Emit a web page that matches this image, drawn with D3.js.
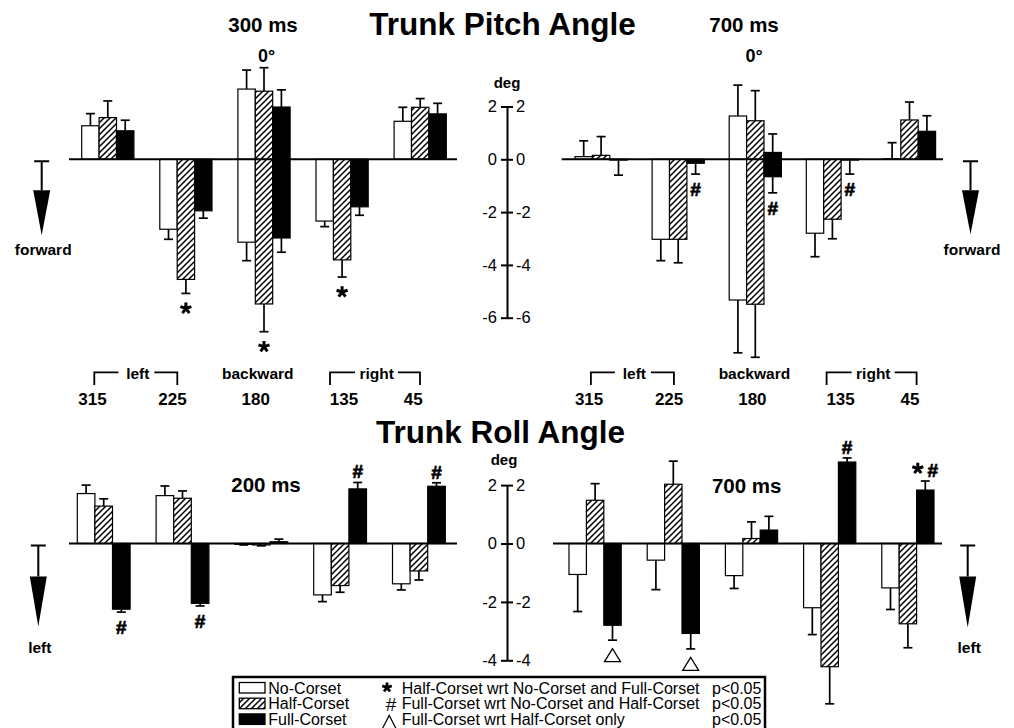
<!DOCTYPE html>
<html>
<head>
<meta charset="utf-8">
<script src="https://cdn.jsdelivr.net/npm/d3@7"></script>
<style>
body { margin: 0; background: #fff; }
svg text { font-family: "Liberation Sans", Arial, Helvetica, sans-serif; fill: #000; }
</style>
</head>
<body>
<svg id="chart" width="1014" height="728"></svg>
<script>
// directions (deg) and conditions
var groups = ["315", "225", "180", "135", "45"];
var series = ["No-Corset", "Half-Corset", "Full-Corset"];

// one row per direction, columns: No-, Half-, Full-Corset (deg)
var pitch300Mean = [[1.27, 1.58, 1.08], [-2.65, -4.55, -1.95], [-3.14, -5.48, -2.98], [-2.34, -3.81, -1.80], [1.44, 1.97, 1.72]];
var pitch300Sd = [[0.46, 0.63, 0.40], [0.38, 0.53, 0.28], [0.70, 1.05, 0.54], [0.21, 0.65, 0.32], [0.53, 0.33, 0.40]];
// 0 deg (forward tilt) shares the 180 slot, drawn upward
var pitch300ZeroMean = [2.66, 2.58, 1.98];
var pitch300ZeroSd = [0.72, 0.89, 0.65];

var pitch700Mean = [[0.10, 0.15, -0.03], [-3.03, -3.03, -0.15], [-5.33, -5.49, -0.66], [-2.80, -2.27, -0.03], [0.02, 1.49, 1.06]];
var pitch700Sd = [[0.60, 0.71, 0.57], [0.81, 0.89, 0.41], [2.00, 2.01, 0.61], [0.89, 0.74, 0.53], [0.61, 0.68, 0.59]];
var pitch700ZeroMean = [1.64, 1.46, 0.26];
var pitch700ZeroSd = [1.17, 1.14, 0.70];

var roll200Mean = [[1.71, 1.28, -2.25], [1.64, 1.55, -2.05], [-0.03, -0.05, 0.06], [-1.76, -1.44, 1.87], [-1.38, -0.94, 1.96]];
var roll200Sd = [[0.29, 0.25, 0.10], [0.33, 0.25, 0.09], [0.02, 0.03, 0.09], [0.23, 0.23, 0.22], [0.21, 0.31, 0.12]];

var roll700Mean = [[-1.06, 1.48, -2.80], [-0.57, 2.03, -3.08], [-1.10, 0.17, 0.46], [-2.20, -4.22, 2.79], [-1.52, -2.75, 1.83]];
var roll700Sd = [[1.27, 0.57, 0.51], [1.01, 0.79, 0.53], [0.44, 0.57, 0.47], [0.92, 1.27, 0.14], [0.74, 0.82, 0.31]];

// significance marks: [direction index, condition index, symbol]
var pitch300Marks = [[1, 1, "*"], [2, 1, "*"], [3, 1, "*"]];
var pitch700Marks = [[1, 2, "#"], [2, 2, "#"], [3, 2, "#"]];
var roll200Marks = [[0, 2, "#"], [1, 2, "#"], [3, 2, "#"], [4, 2, "#"]];
var roll700Marks = [[0, 2, "tri"], [1, 2, "tri"], [3, 2, "#"], [4, 2, "*#"]];

var pitchTicks = [2, 0, -2, -4, -6];
var rollTicks = [2, 0, -2, -4];

var legendNotes = ["Half-Corset wrt No-Corset and Full-Corset", "Full-Corset wrt No-Corset and Half-Corset", "Full-Corset wrt Half-Corset only"];
var legendSymbols = ["*", "#", "tri"];

var svg = d3.select("#chart");
svg.append("rect").attr("width", 1014).attr("height", 728).attr("fill", "#fff");

var pat = svg.append("defs").append("pattern")
    .attr("id", "hatch")
    .attr("patternUnits", "userSpaceOnUse")
    .attr("width", 6).attr("height", 6);
pat.append("rect").attr("width", 6).attr("height", 6).attr("fill", "#fff");
pat.append("path")
    .attr("d", "M0,6L6,0M-1.5,1.5L1.5,-1.5M4.5,7.5L7.5,4.5")
    .attr("stroke", "#000").attr("stroke-width", 1.5);

var fills = ["#fff", "url(#hatch)", "#000"];

var pitchY = d3.scaleLinear().domain([-6, 2]).range([317.7, 106.5]);
var rollY = d3.scaleLinear().domain([-4, 2]).range([660.3, 485.1]);

function text(x, y, s, size, weight, anchor) {
    return svg.append("text")
        .attr("x", x).attr("y", y)
        .attr("font-size", size)
        .attr("font-weight", weight || "normal")
        .attr("text-anchor", anchor || "middle")
        .text(s);
}

function asterisk(g, cx, cy, r, w) {
    var d = "";
    for (var k = 0; k < 5; k++) {
        var a = (-90 + 72 * k) * Math.PI / 180;
        d += "M" + cx + "," + cy + "L" + (cx + r * Math.cos(a)) + "," + (cy + r * Math.sin(a));
    }
    g.append("path").attr("d", d).attr("stroke", "#000").attr("stroke-width", w).attr("fill", "none");
}

function hash(g, x, y) {
    g.append("text").attr("x", x).attr("y", y)
        .attr("font-size", 19).attr("font-weight", "bold")
        .attr("stroke", "#000").attr("stroke-width", 0.7)
        .attr("text-anchor", "middle").text("#");
}

function triangle(g, cx, cy, hw, hh) {
    g.append("path")
        .attr("d", "M" + cx + "," + (cy - hh) + "L" + (cx - hw) + "," + (cy + hh) + "L" + (cx + hw) + "," + (cy + hh) + "Z")
        .attr("fill", "#fff").attr("stroke", "#000").attr("stroke-width", 1.3);
}

function drawPanel(p) {
    var g = svg.append("g");
    var y = p.y;
    var x = d3.scaleBand().domain(groups)
        .range([p.x0, p.x0 + 4 * p.step + p.bw])
        .paddingInner(1 - p.bw / p.step).paddingOuter(0);
    var xs = d3.scaleBand().domain(series).range([0, x.bandwidth()]);

    var recs = [];
    p.mean.forEach(function (row, gi) {
        row.forEach(function (v, si) {
            recs.push({ gi: gi, si: si, v: v, sd: p.sd[gi][si] });
        });
    });
    if (p.zeroMean) {
        p.zeroMean.forEach(function (v, si) {
            recs.push({ gi: 2, si: si, v: v, sd: p.zeroSd[si] });
        });
    }
    function cx(d) { return x(groups[d.gi]) + xs(series[d.si]) + xs.bandwidth() / 2; }
    function yEnd(d) { return y(d.v + (d.v < 0 ? -d.sd : d.sd)); }

    // error bars
    var eb = g.selectAll(".err").data(recs).join("g").attr("class", "err")
        .attr("stroke", "#000").attr("stroke-width", 1.7);
    eb.append("line")
        .attr("x1", cx).attr("x2", cx)
        .attr("y1", function (d) { return y(d.v); })
        .attr("y2", yEnd);
    eb.append("line")
        .attr("x1", function (d) { return cx(d) - 4.5; })
        .attr("x2", function (d) { return cx(d) + 4.5; })
        .attr("y1", yEnd).attr("y2", yEnd);

    // bars
    g.selectAll(".bar").data(recs).join("rect").attr("class", "bar")
        .attr("x", function (d) { return x(groups[d.gi]) + xs(series[d.si]); })
        .attr("width", xs.bandwidth())
        .attr("y", function (d) { return Math.min(y(d.v), y(0)); })
        .attr("height", function (d) { return Math.abs(y(d.v) - y(0)); })
        .attr("fill", function (d) { return fills[d.si]; })
        .attr("stroke", "#000").attr("stroke-width", 1.2);

    // zero line
    g.append("line")
        .attr("x1", p.line[0]).attr("x2", p.line[1])
        .attr("y1", y(0)).attr("y2", y(0))
        .attr("stroke", "#000").attr("stroke-width", 2);

    // significance marks
    p.marks.forEach(function (m) {
        var d = { gi: m[0], si: m[1], v: p.mean[m[0]][m[1]], sd: p.sd[m[0]][m[1]] };
        var down = d.v < 0;
        var mx = cx(d);
        var my = yEnd(d) + (down ? 15 : -11);
        if (m[2] === "*") {
            asterisk(g, mx, my, 5.8, 3);
        } else if (m[2] === "#") {
            hash(g, mx, my + 6.8);
        } else if (m[2] === "*#") {
            asterisk(g, mx - 7.5, my - 1.5, 5.8, 3);
            hash(g, mx + 7.5, my + 6.8);
        } else {
            triangle(g, mx, my, 8, 6.5);
        }
    });
}

drawPanel({ mean: pitch300Mean, sd: pitch300Sd, zeroMean: pitch300ZeroMean, zeroSd: pitch300ZeroSd,
    marks: pitch300Marks, y: pitchY, x0: 81.7, step: 78.1, bw: 52.2, line: [69, 457] });
drawPanel({ mean: pitch700Mean, sd: pitch700Sd, zeroMean: pitch700ZeroMean, zeroSd: pitch700ZeroSd,
    marks: pitch700Marks, y: pitchY, x0: 575, step: 77.1, bw: 52.2, line: [561.7, 943] });
drawPanel({ mean: roll200Mean, sd: roll200Sd, marks: roll200Marks, y: rollY,
    x0: 77.3, step: 78.8, bw: 52.8, line: [69, 457] });
drawPanel({ mean: roll700Mean, sd: roll700Sd, marks: roll700Marks, y: rollY,
    x0: 569, step: 78.2, bw: 52.2, line: [553, 942] });

// center axes with labels on both sides
function centerAxis(y, ticks) {
    var fmt = function (d) { return String(d); };
    var left = svg.append("g").attr("transform", "translate(507,0)")
        .call(d3.axisLeft(y).tickValues(ticks).tickFormat(fmt).tickSize(6).tickSizeOuter(0).tickPadding(4));
    var right = svg.append("g").attr("transform", "translate(507,0)")
        .call(d3.axisRight(y).tickValues(ticks).tickFormat(fmt).tickSize(6).tickSizeOuter(0).tickPadding(3));
    right.select(".domain").remove();
    [left, right].forEach(function (a) {
        a.attr("font-family", null).attr("font-size", null);
        a.selectAll("line").attr("stroke-width", 2);
        a.selectAll(".domain").attr("stroke-width", 2);
        a.selectAll("text").attr("font-size", 16.5);
    });
}
centerAxis(pitchY, pitchTicks);
centerAxis(rollY, rollTicks);
text(507, 88, "deg", 15, "bold");
text(504, 465, "deg", 15, "bold");

// titles and time labels
text(502.5, 35, "Trunk Pitch Angle", 31.5, "bold");
text(500.5, 443.3, "Trunk Roll Angle", 31.5, "bold");
text(263, 31.7, "300 ms", 20.5, "bold");
text(744, 31.7, "700 ms", 20.5, "bold");
text(266, 491.7, "200 ms", 20.5, "bold");
text(746.7, 492.7, "700 ms", 20.5, "bold");
text(266.7, 62, "0°", 18, "bold");
text(754.2, 62, "0°", 18, "bold");

// direction labels under the pitch panels
var dirLabelX = [92.5, 172.5, 255.8, 344, 413.3];
[0, 496.6].forEach(function (dx) {
    var g = svg.append("g").attr("transform", "translate(" + dx + ",0)");
    groups.forEach(function (s, i) {
        g.append("text").attr("x", dirLabelX[i]).attr("y", 405)
            .attr("font-size", 17).attr("font-weight", "bold")
            .attr("text-anchor", "middle").text(s);
    });
    var br = g.append("g").attr("stroke", "#000").attr("stroke-width", 1.8).attr("fill", "none");
    br.append("path").attr("d", "M94.3,385V372.3H118.3M154.3,372.3H177.3V385");
    br.append("path").attr("d", "M330,385V372.3H355M398,372.3H420V385");
    [["left", 137.8], ["backward", 257.8], ["right", 376.7]].forEach(function (t) {
        g.append("text").attr("x", t[1]).attr("y", 379)
            .attr("font-size", 15.5).attr("font-weight", "bold")
            .attr("text-anchor", "middle").text(t[0]);
    });
});

// direction arrows
function arrow(x, y0, headTop, tip, label, labelY) {
    var g = svg.append("g");
    g.append("path")
        .attr("d", "M" + (x - 7.5) + "," + (y0 + 2) + "H" + (x + 7.5) + "M" + x + "," + (y0 + 2) + "V" + (y0 + headTop))
        .attr("stroke", "#000").attr("stroke-width", 2).attr("fill", "none");
    g.append("path")
        .attr("d", "M" + (x - 8.5) + "," + (y0 + headTop) + "L" + (x + 8.5) + "," + (y0 + headTop) + "L" + x + "," + (y0 + tip) + "Z")
        .attr("fill", "#000");
    text(x + 1.5, labelY, label, 15.5, "bold");
}
arrow(41.7, pitchY(0), 31, 76, "forward", 255);
arrow(970.5, pitchY(0), 31, 75, "forward", 255);
arrow(38.3, rollY(0), 33, 83, "left", 653.3);
arrow(967.7, rollY(0), 33, 84, "left", 653.3);

// legend
var lg = svg.append("g");
lg.append("rect").attr("x", 233).attr("y", 677).attr("width", 532).attr("height", 70)
    .attr("fill", "#fff").attr("stroke", "#000").attr("stroke-width", 2.5);
series.forEach(function (s, i) {
    var top = 682.5 + i * 15.7;
    lg.append("rect").attr("x", 239.3).attr("y", top).attr("width", 25.7).attr("height", 10.5)
        .attr("fill", fills[i]).attr("stroke", "#000").attr("stroke-width", 1.3);
    lg.append("text").attr("x", 268.3).attr("y", top + 11).attr("font-size", 16).text(s);
});
legendNotes.forEach(function (s, i) {
    var base = 693.5 + i * 15.7;
    var sym = legendSymbols[i];
    if (sym === "*") {
        asterisk(lg, 387, base - 6, 5, 2.8);
    } else if (sym === "#") {
        lg.append("text").attr("x", 391).attr("y", base + 1.5).attr("font-size", 19)
            .attr("text-anchor", "middle").text("#");
    } else {
        lg.append("path").attr("d", "M381.7," + (base + 5) + "L389.2," + (base - 9.5) + "L396.7," + (base + 5))
            .attr("fill", "none").attr("stroke", "#000").attr("stroke-width", 1.2);
    }
    lg.append("text").attr("x", 401.7).attr("y", base).attr("font-size", 16).text(s);
    lg.append("text").attr("x", 712).attr("y", base).attr("font-size", 16).text("p<0.05");
});
</script>
</body>
</html>
